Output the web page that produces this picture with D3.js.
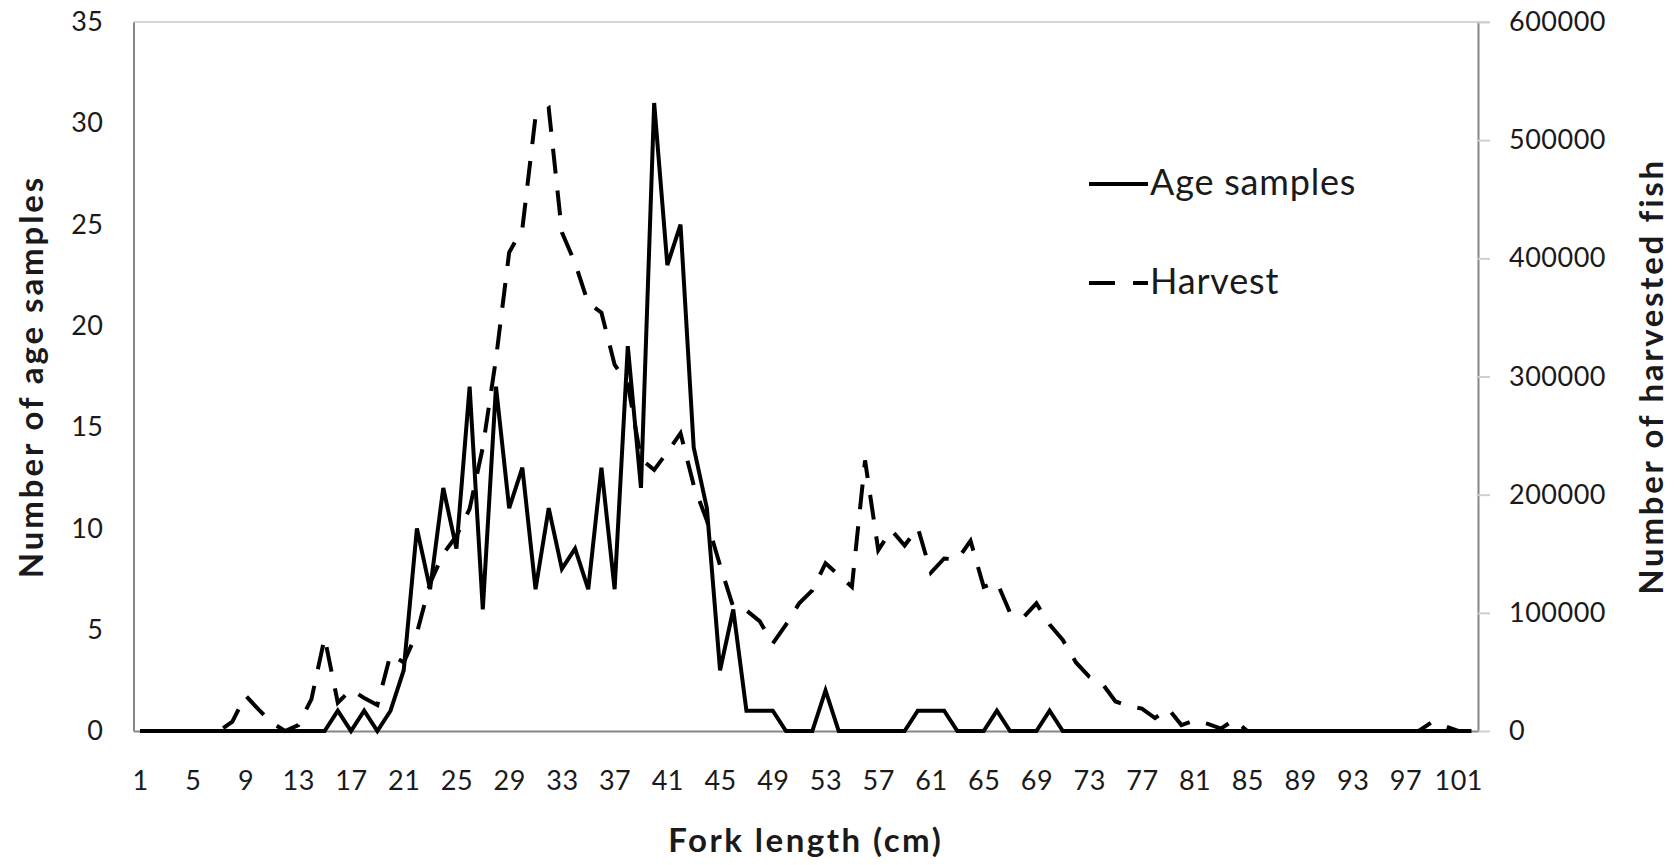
<!DOCTYPE html>
<html>
<head>
<meta charset="utf-8">
<script src="https://cdn.jsdelivr.net/npm/d3@7"></script>
<style>
body { margin: 0; background: #fff; }
text { font-family: Lato, "Open Sans", sans-serif; fill: #1a1a1a; }
</style>
</head>
<body>
<div id="chart"></div>
<script>
var w = 1676;
var h = 865;

// fork length categories (cm) and the labels shown on the axis
var lengths = d3.range(1, 103);
var xTickLabels = [1, 5, 9, 13, 17, 21, 25, 29, 33, 37, 41, 45, 49, 53, 57, 61, 65, 69, 73, 77, 81, 85, 89, 93, 97, 101];
var ageTicks = [0, 5, 10, 15, 20, 25, 30, 35];
var harvestTicks = [0, 100000, 200000, 300000, 400000, 500000, 600000];

// number of age samples per cm
var ageSamples = [
  0, 0, 0, 0, 0, 0, 0, 0, 0, 0, 0, 0, 0, 0, 0,
  1, 0, 1, 0, 1, 3, 10, 7, 12, 9, 17, 6, 17, 11, 13,
  7, 11, 8, 9, 7, 13, 7, 19, 12, 31, 23, 25, 14, 11, 3,
  6, 1, 1, 1, 0, 0, 0, 2, 0, 0, 0, 0, 0, 0, 1,
  1, 1, 0, 0, 0, 1, 0, 0, 0, 1, 0, 0, 0, 0, 0,
  0, 0, 0, 0, 0, 0, 0, 0, 0, 0, 0, 0, 0, 0, 0,
  0, 0, 0, 0, 0, 0, 0, 0, 0, 0, 0, 0
];

// number of harvested fish per cm
var harvest = [
  0, 0, 0, 0, 0, 0, 0, 8000, 30000, 18000, 7000, 0, 5000, 27000, 79000,
  24000, 35000, 28000, 22000, 65000, 58000, 83000, 125000, 150000, 165000, 188000, 240000, 315000, 405000, 425000,
  520000, 527000, 422000, 396000, 362000, 354000, 310000, 294000, 230000, 221000, 236000, 252000, 208000, 178000, 140000,
  105000, 102000, 93000, 74000, 90000, 108000, 119000, 142000, 132000, 122000, 229000, 153000, 170000, 157000, 172000,
  134000, 146000, 145000, 161000, 122000, 126000, 100000, 96000, 108000, 90000, 77000, 58000, 46000, 40000, 25000,
  21000, 19000, 11000, 19000, 5000, 9000, 6000, 2000, 9500, 0, 0, 0, 0, 0, 0,
  0, 0, 0, 0, 0, 0, 0, 0, 7500, 4000, 0, 0
];

var plotLeft = 133.5, plotRight = 1478, plotTop = 22, plotBottom = 731;

var xScale = d3.scalePoint()
			.domain(lengths)
			.range([plotLeft, plotRight])
			.padding(0.5);

var yAge = d3.scaleLinear()
			.domain([0, 35])
			.range([plotBottom, plotTop]);

var yHarvest = d3.scaleLinear()
			.domain([0, 600000])
			.range([plotBottom, plotTop]);

//Create SVG element
var svg = d3.select("#chart")
		.append("svg")
		.attr("width", w)
		.attr("height", h);

// top border of the plot area
svg.append("line")
	.attr("x1", plotLeft)
	.attr("x2", plotRight + 12)
	.attr("y1", plotTop)
	.attr("y2", plotTop)
	.attr("stroke", "#d6d6d6")
	.attr("stroke-width", 2);

//Left axis
var gLeft = svg.append("g")
	.attr("transform", "translate(" + plotLeft + ",0)")
	.call(d3.axisLeft(yAge).tickValues(ageTicks).tickSize(0).tickPadding(30));

//Right axis
var gRight = svg.append("g")
	.attr("transform", "translate(" + plotRight + ",0)")
	.call(d3.axisRight(yHarvest).tickValues(harvestTicks).tickFormat(d3.format("d")).tickSizeInner(12).tickSizeOuter(0).tickPadding(19));

//Bottom axis
var gBottom = svg.append("g")
	.attr("transform", "translate(0," + plotBottom + ")")
	.call(d3.axisBottom(xScale).tickValues(xTickLabels).tickSize(0).tickPadding(40));

[gLeft, gRight, gBottom].forEach(function(g) {
	g.select(".domain").attr("stroke", "#868686").attr("stroke-width", 2);
	g.selectAll(".tick line").attr("stroke", "#cfcfcf").attr("stroke-width", 2);
	g.selectAll("text")
		.attr("font-family", "Lato, sans-serif")
		.attr("font-size", "27px")
		.attr("letter-spacing", "0.5px")
		.attr("fill", "#1a1a1a");
});

//Create lines
var ageLine = d3.line()
	.x(function(d, i) { return xScale(lengths[i]); })
	.y(function(d) { return yAge(d); });

var harvestLine = d3.line()
	.x(function(d, i) { return xScale(lengths[i]); })
	.y(function(d) { return yHarvest(d); });

svg.append("path")
	.datum(ageSamples)
	.attr("d", ageLine)
	.attr("fill", "none")
	.attr("stroke", "#000")
	.attr("stroke-width", 4);

svg.append("path")
	.datum(harvest)
	.attr("d", harvestLine)
	.attr("fill", "none")
	.attr("stroke", "#000")
	.attr("stroke-width", 4)
	.attr("stroke-dasharray", "25,17");

//Legend
var legend = [
	{ name: "Age samples", y: 184, dash: null },
	{ name: "Harvest", y: 283, dash: "26,18" }
];

legend.forEach(function(d) {
	svg.append("line")
		.attr("x1", 1089)
		.attr("x2", 1148)
		.attr("y1", d.y)
		.attr("y2", d.y)
		.attr("stroke", "#000")
		.attr("stroke-width", 4)
		.attr("stroke-dasharray", d.dash);
	svg.append("text")
		.attr("x", 1150)
		.attr("y", d.y + 11)
		.attr("font-size", "36px")
		.attr("letter-spacing", "0.8px")
		.text(d.name);
});

//Axis titles
svg.append("text")
	.attr("x", (plotLeft + plotRight) / 2)
	.attr("y", 852)
	.attr("text-anchor", "middle")
	.attr("font-size", "33px")
	.attr("font-weight", "bold")
	.attr("letter-spacing", "2.5px")
	.text("Fork length (cm)");

svg.append("text")
	.attr("transform", "translate(43," + ((plotTop + plotBottom) / 2) + ") rotate(-90)")
	.attr("text-anchor", "middle")
	.attr("font-size", "33px")
	.attr("font-weight", "bold")
	.attr("letter-spacing", "2.9px")
	.text("Number of age samples");

svg.append("text")
	.attr("transform", "translate(1663," + ((plotTop + plotBottom) / 2) + ") rotate(-90)")
	.attr("text-anchor", "middle")
	.attr("font-size", "33px")
	.attr("font-weight", "bold")
	.attr("letter-spacing", "2.7px")
	.text("Number of harvested fish");
</script>
</body>
</html>
